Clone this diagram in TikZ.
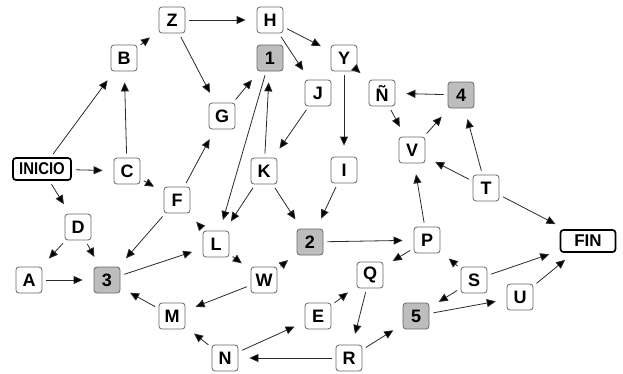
\documentclass[tikz,border=0pt]{standalone}
\usepackage{fontspec}
\setmainfont{Liberation Sans}
\usetikzlibrary{arrows.meta}
\definecolor{boxgray}{HTML}{BDBDBD}
\definecolor{edgegray}{HTML}{666666}
\definecolor{linegray}{HTML}{2A2A2A}
\tikzset{
  nd/.style={draw=edgegray, line width=0.8pt, rounded corners=3pt, fill=white,
    minimum width=26pt, minimum height=26pt, inner sep=0pt,
    font=\fontsize{18}{20}\selectfont\bfseries},
  gnd/.style={nd, fill=boxgray},
  term/.style={draw=black, line width=1.7pt, rounded corners=3pt, fill=white,
    minimum height=22pt, inner sep=0pt,
    font=\fontsize{17}{19}\selectfont\bfseries},
  arr/.style={draw=linegray, line width=0.8pt,
    -{Triangle[length=9pt,width=8pt,fill=black]},
    shorten >=11pt, shorten <=4pt}
}
\begin{document}
\begin{tikzpicture}[x=1pt,y=-1pt]
\useasboundingbox (0,0) rectangle (623,373);
% nodes
\node[term, minimum width=58pt] (inicio) at (42,169) {\scalebox{0.88}[1]{INICIO}};
\node[term, minimum width=55pt] (fin) at (588,241) {FIN};
\node[nd] (Z) at (172,20) {Z};
\node[nd] (H) at (270,20) {H};
\node[nd] (B) at (124,58) {B};
\node[gnd] (n1) at (270,58) {1};
\node[nd] (Y) at (344,58) {Y};
\node[nd] (J) at (318,93) {J};
\node[nd] (NN) at (382,93) {Ñ};
\node[gnd] (n4) at (461,95) {4};
\node[nd] (G) at (222,116) {G};
\node[nd] (C) at (127,171) {C};
\node[nd] (K) at (264,171) {K};
\node[nd] (I) at (344,170) {I};
\node[nd] (V) at (412,150) {V};
\node[nd] (T) at (486,188) {T};
\node[nd] (F) at (177,200) {F};
\node[nd] (D) at (78,227) {D};
\node[nd] (L) at (216,244) {L};
\node[gnd] (n2) at (310,242) {2};
\node[nd] (P) at (427,240) {P};
\node[nd] (A) at (29,280) {A};
\node[gnd] (n3) at (107,280) {3};
\node[nd] (W) at (264,280) {W};
\node[nd] (Q) at (370,275) {Q};
\node[nd] (S) at (474,280) {S};
\node[nd] (U) at (520,297) {U};
\node[nd] (M) at (172,316) {M};
\node[nd] (E) at (318,316) {E};
\node[gnd] (n5) at (416,316) {5};
\node[nd] (N) at (225,358) {N};
\node[nd] (R) at (349,358) {R};
% edges
\draw[arr] (inicio) -- (B);
\draw[arr] (inicio) -- (C);
\draw[arr] (inicio) -- (D);
\draw[arr] (C) -- (B);
\draw[arr] (C) -- (F);
\draw[arr] (B) -- (Z);
\draw[arr] (Z) -- (H);
\draw[arr] (Z) -- (G);
\draw[arr] (H) -- (Y);
\draw[arr] (H) -- (J);
\draw[arr] (Y) -- (NN);
\draw[arr] (Y) -- (I);
\draw[arr] (G) -- (n1);
\draw[arr] (n1) -- (L);
\draw[arr] (J) -- (K);
\draw[arr] (K) -- (n1);
\draw[arr] (K) -- (L);
\draw[arr] (K) -- (n2);
\draw[arr] (I) -- (n2);
\draw[arr] (F) -- (G);
\draw[arr] (F) -- (n3);
\draw[arr] (L) -- (F);
\draw[arr] (L) -- (W);
\draw[arr] (D) -- (A);
\draw[arr] (D) -- (n3);
\draw[arr] (A) -- (n3);
\draw[arr] (n3) -- (L);
\draw[arr] (W) -- (n2);
\draw[arr] (W) -- (M);
\draw[arr] (M) -- (n3);
\draw[arr] (N) -- (M);
\draw[arr] (N) -- (E);
\draw[arr] (R) -- (N);
\draw[arr] (E) -- (Q);
\draw[arr] (Q) -- (R);
\draw[arr] (R) -- (n5);
\draw[arr] (n2) -- (P);
\draw[arr] (P) -- (Q);
\draw[arr] (P) -- (V);
\draw[arr] (S) -- (P);
\draw[arr] (S) -- (n5);
\draw[arr] (S) -- (fin);
\draw[arr] (n5) -- (U);
\draw[arr] (U) -- (fin);
\draw[arr] (T) -- (V);
\draw[arr] (T) -- (n4);
\draw[arr] (T) -- (fin);
\draw[arr] (V) -- (n4);
\draw[arr] (n4) -- (NN);
\draw[arr] (NN) -- (V);
\end{tikzpicture}
\end{document}
